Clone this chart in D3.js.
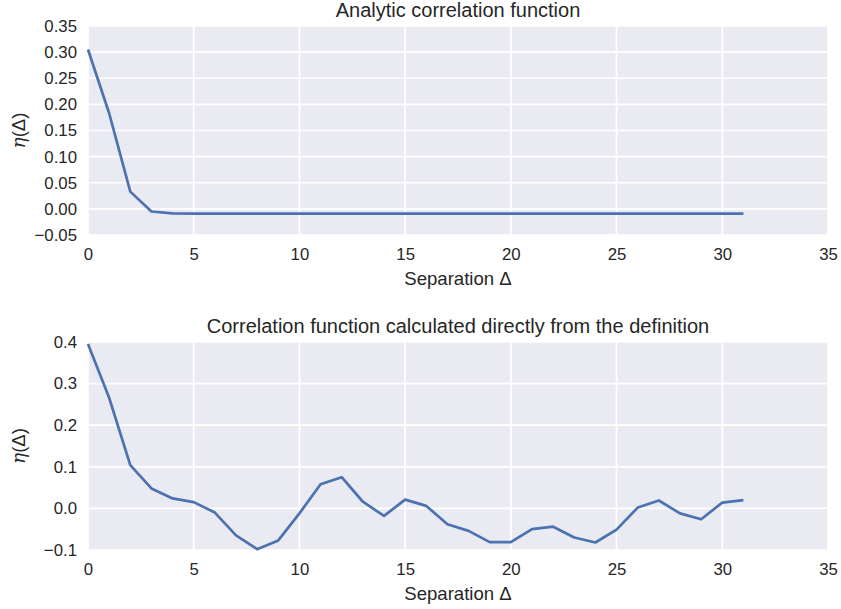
<!DOCTYPE html>
<html>
<head>
<meta charset="utf-8">
<script src="https://cdn.jsdelivr.net/npm/d3@7"></script>
<style>
  html, body { margin: 0; padding: 0; background: #fff; }
  svg text { font-family: "Liberation Sans", Arial, sans-serif; fill: #262626; }
</style>
</head>
<body>
<svg id="chart" width="841" height="609"></svg>
<script>
// Separation values (lags) shared by both panels
const separation = d3.range(0, 32);

// Analytic correlation function
const analyticEta = [
  0.305, 0.183, 0.033, -0.005, -0.0085, -0.009, -0.009, -0.009,
  -0.009, -0.009, -0.009, -0.009, -0.009, -0.009, -0.009, -0.009,
  -0.009, -0.009, -0.009, -0.009, -0.009, -0.009, -0.009, -0.009,
  -0.009, -0.009, -0.009, -0.009, -0.009, -0.009, -0.009, -0.009
];

// Correlation function computed directly from the definition
const directEta = [
  0.395, 0.266, 0.104, 0.048, 0.024, 0.015, -0.010, -0.065,
  -0.098, -0.077, -0.012, 0.058, 0.075, 0.016, -0.018, 0.021,
  0.006, -0.038, -0.054, -0.081, -0.081, -0.050, -0.044, -0.070,
  -0.082, -0.051, 0.002, 0.019, -0.012, -0.026, 0.014, 0.020
];

const xTicks = [0, 5, 10, 15, 20, 25, 30, 35];
const yTicksTop = [-0.05, 0.00, 0.05, 0.10, 0.15, 0.20, 0.25, 0.30, 0.35];
const yTicksBottom = [-0.1, 0.0, 0.1, 0.2, 0.3, 0.4];

const svg = d3.select("#chart");
const fmtMinus = s => s.replace("-", "\u2212");

const TICK_SIZE = 16.8, LABEL_SIZE = 18.6, TITLE_SIZE = 20;

function panel(cfg) {
  const { left, right, top, bottom, values, yDomain, yTicks, yFmt, title } = cfg;
  const x = d3.scaleLinear().domain([0, 35]).range([left, right]);
  const y = d3.scaleLinear().domain(yDomain).range([bottom, top]);
  const g = svg.append("g");

  g.append("rect")
    .attr("x", left).attr("y", top)
    .attr("width", right - left).attr("height", bottom - top)
    .attr("fill", "#EAEAF2");

  // grid
  g.append("g").selectAll("line").data(xTicks).join("line")
    .attr("x1", d => x(d)).attr("x2", d => x(d))
    .attr("y1", top).attr("y2", bottom)
    .attr("stroke", "#fff").attr("stroke-width", 1.7);
  g.append("g").selectAll("line").data(yTicks).join("line")
    .attr("x1", left).attr("x2", right)
    .attr("y1", d => y(d)).attr("y2", d => y(d))
    .attr("stroke", "#fff").attr("stroke-width", 1.7);

  // axes (labels only, darkgrid style)
  const xAxis = d3.axisBottom(x).tickValues(xTicks).tickSize(0).tickPadding(13)
    .tickFormat(d3.format("d"));
  const xg = g.append("g").attr("transform", `translate(0,${bottom})`).call(xAxis);
  const yAxis = d3.axisLeft(y).tickValues(yTicks).tickSize(0).tickPadding(11)
    .tickFormat(d => fmtMinus(d3.format(yFmt)(d)));
  const yg = g.append("g").attr("transform", `translate(${left},0)`).call(yAxis);
  [xg, yg].forEach(a => {
    a.select(".domain").remove();
    a.selectAll("text").attr("font-size", TICK_SIZE).attr("fill", "#262626")
      .style("font-family", "'Liberation Sans', Arial, sans-serif");
  });

  // data line
  const line = d3.line().x((d, i) => x(separation[i])).y(d => y(d));
  g.append("path").datum(values)
    .attr("d", line)
    .attr("fill", "none")
    .attr("stroke", "#4C72B0")
    .attr("stroke-width", 2.7)
    .attr("stroke-linejoin", "round");

  // title
  g.append("text")
    .attr("x", (left + right) / 2).attr("y", top - 9)
    .attr("text-anchor", "middle").attr("font-size", TITLE_SIZE)
    .text(title);

  // x label
  g.append("text")
    .attr("x", (left + right) / 2).attr("y", bottom + 50)
    .attr("text-anchor", "middle").attr("font-size", LABEL_SIZE)
    .text("Separation \u0394");

  // y label (math italic eta)
  const yl = g.append("text")
    .attr("transform", `translate(${left - 63},${(top + bottom) / 2}) rotate(-90)`)
    .attr("text-anchor", "middle").attr("font-size", LABEL_SIZE);
  yl.append("tspan").attr("font-style", "italic")
    .style("font-family", "'DejaVu Serif', serif").text("\u03B7");
  yl.append("tspan").text("(\u0394)");
}

panel({
  left: 88, right: 828, top: 26, bottom: 235,
  values: analyticEta, yDomain: [-0.05, 0.35], yTicks: yTicksTop, yFmt: ".2f",
  title: "Analytic correlation function"
});

panel({
  left: 88, right: 828, top: 342, bottom: 550,
  values: directEta, yDomain: [-0.1, 0.4], yTicks: yTicksBottom, yFmt: ".1f",
  title: "Correlation function calculated directly from the definition"
});
</script>
</body>
</html>
